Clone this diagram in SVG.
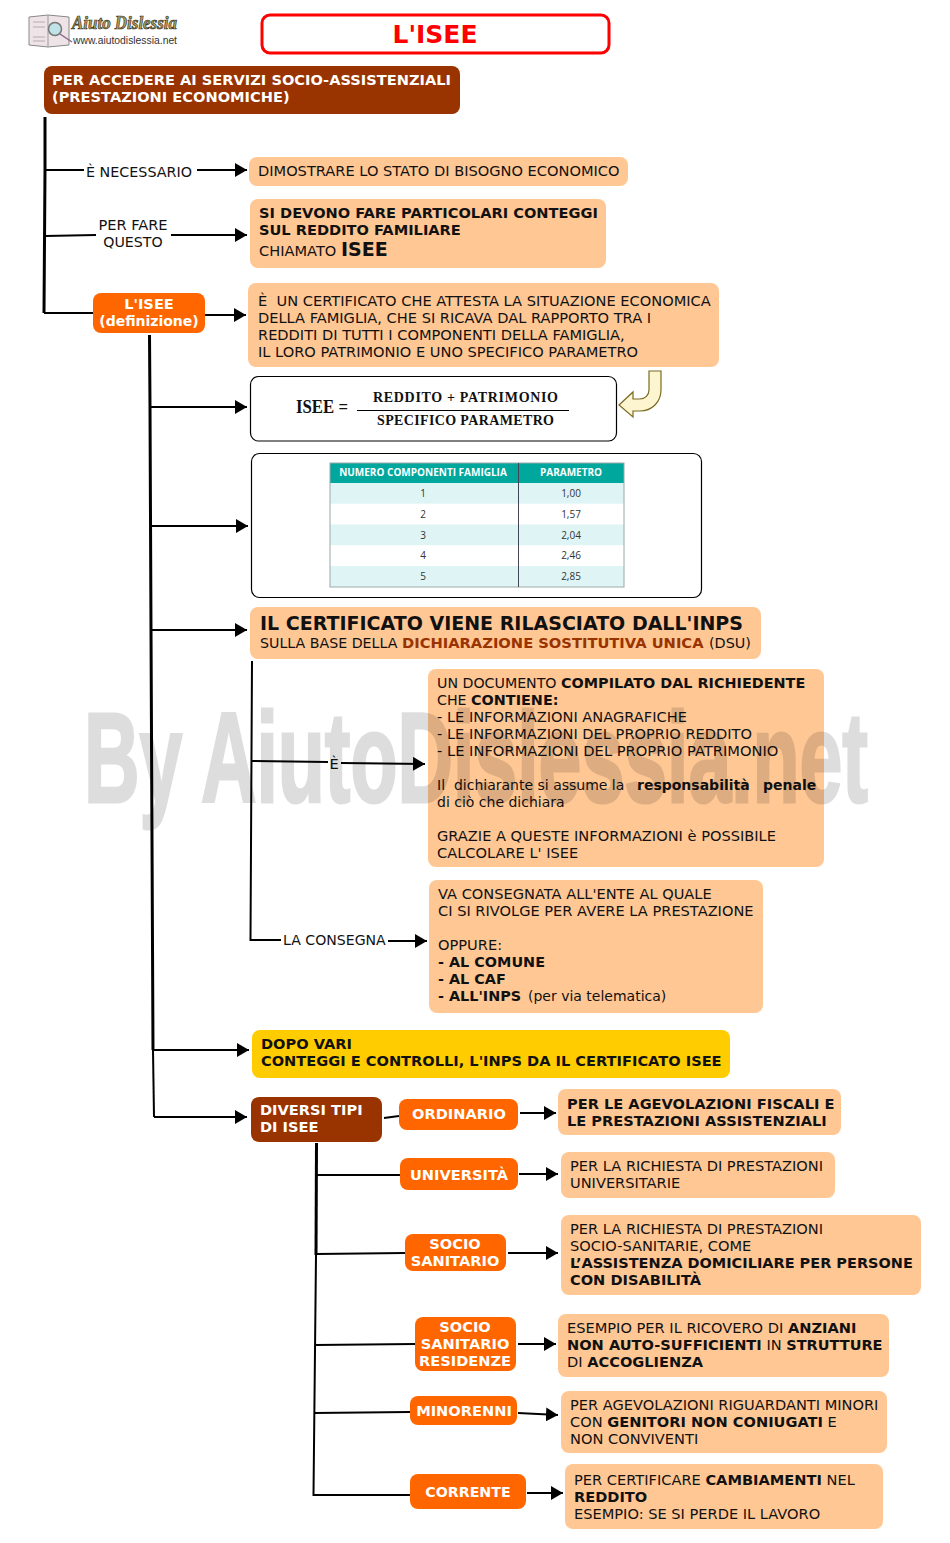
<svg xmlns="http://www.w3.org/2000/svg" width="950" height="1543" viewBox="0 0 950 1543">
<style>
text{font-family:"DejaVu Sans",Verdana,sans-serif;font-size:14.6px;fill:#111}
.b{font-weight:bold}
.w{fill:#fff;font-weight:bold}
.m{text-anchor:middle}
.l{font-size:14px}
.p{fill:#ffc794}
.o{fill:#ff6600}
.r{fill:#993300}
.f{fill:#fff;stroke:#000;stroke-width:1.2}
.c{fill:none;stroke:#000;stroke-width:2}
.t{stroke-width:3}
.a{marker-end:url(#h)}
.s{font-family:"Liberation Serif",serif;font-weight:bold}
.n{font-family:"Open Sans",sans-serif;font-size:10px;fill:#333;text-anchor:middle}
.nh{font-family:"Open Sans",sans-serif;font-size:10px;font-weight:bold;fill:#fff;text-anchor:middle}
</style>
<defs>
<marker id="h" markerUnits="userSpaceOnUse" markerWidth="13" markerHeight="14" refX="12" refY="7" orient="auto"><path d="M0 0L12 7L0 14Z" fill="#000"/></marker>
</defs>

<g id="logo">
<path d="M29 17L48 15L69 17L69 45L48 47L29 45Z" fill="#eee4e8" stroke="#888"/>
<path d="M48 15V47" stroke="#999"/>
<path d="M33 22H45M33 27H45M33 37H45M33 41H45" stroke="#b9a9b0"/>
<circle cx="55" cy="29" r="6.500" fill="#bfe3e6" stroke="#777" stroke-width="1.500"/>
<path d="M60 34L72 42" stroke="#8a6a8a" stroke-width="1.500"/>
<text x="72" y="29" style="font-family:'Liberation Serif',serif;font-size:18px;font-weight:bold;font-style:italic;fill:#b8a060;stroke:#332;stroke-width:.7" textLength="105" lengthAdjust="spacingAndGlyphs">Aiuto Dislessia</text>
<text x="73" y="44" style="font-family:'Liberation Sans',sans-serif;font-size:10px;fill:#333" textLength="104" lengthAdjust="spacingAndGlyphs">www.aiutodislessia.net</text>
</g>

<g id="title"><rect x="262" y="15" width="347" height="38" rx="8" fill="#fff" stroke="#f00" stroke-width="3"/><text x="435" y="43" class="m b" style="fill:#f00;font-size:25px">L'ISEE</text></g>

<g id="connectors">
<path class="c t" d="M45 117L45 170L44 313"/>
<path class="c" d="M44 313H93"/>
<path class="c" d="M45 170H84"/>
<path class="c a" d="M197 170H247"/>
<path class="c" d="M45 236L96 235"/>
<path class="c a" d="M171 235H247"/>
<path class="c a" d="M205 315H246"/>
<path class="c t" d="M149.500 335L150 406L151 630L153 1050"/>
<path class="c" d="M153 1050L154 1117"/>
<path class="c a" d="M154 1117H247"/>
<path class="c a" d="M150 407H247"/>
<path class="c a" d="M150 526H248"/>
<path class="c a" d="M151 630H247"/>
<path class="c a" d="M153 1050H249"/>
<path class="c" d="M252 661L250.500 940H281"/>
<path class="c" d="M252 761L328 762"/>
<path class="c a" d="M341 763L425 764"/>
<path class="c a" d="M388 941H427"/>
<path class="c" d="M384 1118L399 1116"/>
<path class="c a" d="M520 1113H556"/>
<path class="c t" d="M316.500 1143L316 1255"/>
<path class="c" d="M316 1255L313.500 1495H410"/>
<path class="c" d="M316 1175H400"/>
<path class="c a" d="M519 1174H558"/>
<path class="c" d="M316 1254L405 1253"/>
<path class="c a" d="M508 1253H558"/>
<path class="c" d="M315 1345L415 1344"/>
<path class="c a" d="M518 1344H556"/>
<path class="c" d="M314 1413L410 1412"/>
<path class="c a" d="M518 1413L558 1415"/>
<path class="c a" d="M527 1493H563"/>
<text x="86" y="177" style="font-size:14.3px">È NECESSARIO</text>
<text x="133" y="230" class="m">PER FARE</text>
<text x="133" y="247" class="m" style="font-size:14.2px">QUESTO</text>
<text x="334" y="769" class="m">È</text>
<text x="283" y="945" style="font-size:14.1px">LA CONSEGNA</text>
</g>

<g id="n-header"><rect x="44" y="66" width="416" height="48" rx="8" class="r"/><text x="52" y="85" class="w">PER ACCEDERE AI SERVIZI SOCIO-ASSISTENZIALI</text><text x="52" y="102" class="w">(PRESTAZIONI ECONOMICHE)</text></g>

<g id="n-dimostrare"><rect x="249" y="157" width="379" height="29" rx="8" class="p"/><text x="258" y="176">DIMOSTRARE LO STATO DI BISOGNO ECONOMICO</text></g>

<g id="n-conteggi"><rect x="250" y="199" width="356" height="69" rx="8" class="p"/><text x="259" y="218" class="b">SI DEVONO FARE PARTICOLARI CONTEGGI</text><text x="259" y="235" class="b">SUL REDDITO FAMILIARE</text><text x="259" y="256">CHIAMATO <tspan class="b" style="font-size:19px">ISEE</tspan></text></g>

<g id="n-isee-def"><rect x="93" y="293" width="112" height="40" rx="8" class="o"/><text x="149" y="309" class="w m">L'ISEE</text><text x="149" y="326" class="w m l">(definizione)</text></g>

<g id="n-certificato"><rect x="248" y="283" width="471" height="84" rx="8" class="p"/><text x="258" y="306" xml:space="preserve">È  UN CERTIFICATO CHE ATTESTA LA SITUAZIONE ECONOMICA</text><text x="258" y="323">DELLA FAMIGLIA, CHE SI RICAVA DAL RAPPORTO TRA I</text><text x="258" y="340">REDDITI DI TUTTI I COMPONENTI DELLA FAMIGLIA,</text><text x="258" y="357">IL LORO PATRIMONIO E UNO SPECIFICO PARAMETRO</text></g>

<g id="n-formula"><rect x="250.500" y="376.500" width="366" height="64.500" rx="8" class="f"/>
<text x="296" y="413" class="s" style="font-size:18px" textLength="52" lengthAdjust="spacingAndGlyphs">ISEE =</text>
<text x="373" y="402" class="s" style="font-size:14px" textLength="185">REDDITO + PATRIMONIO</text>
<path d="M357 410.500H569" stroke="#000" stroke-width="1"/>
<text x="377" y="425" class="s" style="font-size:14px" textLength="177">SPECIFICO PARAMETRO</text></g>

<g id="n-freccia"><path d="M619 405L633 392V399H640C645 399 649 395 649 390V371H661V390C661 402 652 411 640 411H633V417Z" fill="#fdf5d0" stroke="#7a6a20" stroke-width="1.200"/></g>

<g id="n-tabella"><rect x="251.500" y="453.500" width="450" height="144" rx="8" class="f"/>
<rect x="330" y="463" width="294" height="20" fill="#00a79d"/>
<rect x="330" y="483" width="294" height="20.700" fill="#dff4f4"/>
<rect x="330" y="524.500" width="294" height="20.700" fill="#dff4f4"/>
<rect x="330" y="566" width="294" height="20.700" fill="#dff4f4"/>
<rect x="330" y="463" width="294" height="124" fill="none" stroke="#9aa8a8"/>
<path d="M518.500 463V587" stroke="#445" stroke-width="1"/>
<text x="423" y="476" class="nh">NUMERO COMPONENTI FAMIGLIA</text><text x="571" y="476" class="nh">PARAMETRO</text>
<text x="423" y="497" class="n">1</text><text x="571" y="497" class="n">1,00</text>
<text x="423" y="518" class="n">2</text><text x="571" y="518" class="n">1,57</text>
<text x="423" y="539" class="n">3</text><text x="571" y="539" class="n">2,04</text>
<text x="423" y="559" class="n">4</text><text x="571" y="559" class="n">2,46</text>
<text x="423" y="580" class="n">5</text><text x="571" y="580" class="n">2,85</text></g>

<g id="n-inps"><rect x="250" y="607" width="511" height="52" rx="8" class="p"/><text x="260" y="630" class="b" style="font-size:19px">IL CERTIFICATO VIENE RILASCIATO DALL'INPS</text><text x="260" y="648" style="font-size:14.2px">SULLA BASE DELLA <tspan x="402" class="b" style="fill:#993300;font-size:14.7px">DICHIARAZIONE SOSTITUTIVA UNICA</tspan><tspan x="709" style="font-size:14.4px">(DSU)</tspan></text></g>

<g id="n-documento"><rect x="428" y="669" width="396" height="198" rx="8" class="p"/>
<text x="437" y="688" style="font-size:14.2px">UN DOCUMENTO <tspan x="561" class="b" style="font-size:14.4px">COMPILATO DAL RICHIEDENTE</tspan></text>
<text x="437" y="705" style="font-size:14.2px">CHE <tspan x="471" class="b" style="font-size:14.4px">CONTIENE:</tspan></text>
<text x="437" y="722">- LE INFORMAZIONI ANAGRAFICHE</text>
<text x="437" y="739">- LE INFORMAZIONI DEL PROPRIO REDDITO</text>
<text x="437" y="756" style="font-size:14.7px">- LE INFORMAZIONI DEL PROPRIO PATRIMONIO</text>
<text x="437" y="790" class="l" xml:space="preserve">Il  dichiarante si assume la<tspan x="637" class="b">responsabilità</tspan><tspan x="763" class="b">penale</tspan></text>
<text x="437" y="807" class="l">di ciò che dichiara</text>
<text x="437" y="841">GRAZIE A QUESTE INFORMAZIONI è POSSIBILE</text>
<text x="437" y="858">CALCOLARE L' ISEE</text></g>

<g id="n-consegna"><rect x="429" y="880" width="334" height="133" rx="8" class="p"/>
<text x="438" y="899">VA CONSEGNATA ALL'ENTE AL QUALE</text>
<text x="438" y="916">CI SI RIVOLGE PER AVERE LA PRESTAZIONE</text>
<text x="438" y="950">OPPURE:</text>
<text x="438" y="967" class="b" style="font-size:14.4px">- AL COMUNE</text>
<text x="438" y="984" class="b" style="font-size:14.4px">- AL CAF</text>
<text x="438" y="1001"><tspan class="b" style="font-size:14.4px">- ALL'INPS</tspan><tspan x="528" class="l">(per via telematica)</tspan></text></g>

<g id="n-dopo"><rect x="252" y="1030" width="478" height="48" rx="8" fill="#ffcc00"/><text x="261" y="1049" class="b">DOPO VARI</text><text x="261" y="1066" class="b">CONTEGGI E CONTROLLI, L'INPS DA IL CERTIFICATO ISEE</text></g>

<g id="n-diversi"><rect x="251" y="1097" width="131" height="45" rx="8" class="r"/><text x="260" y="1115" class="w">DIVERSI TIPI</text><text x="260" y="1132" class="w">DI ISEE</text></g>

<g id="n-ordinario"><rect x="399" y="1099" width="119" height="31" rx="8" class="o"/><text x="459" y="1119" class="w m">ORDINARIO</text></g>
<g id="n-ordinario-t"><rect x="558" y="1089" width="283" height="46" rx="8" class="p"/><text x="567" y="1109" class="b">PER LE AGEVOLAZIONI FISCALI E</text><text x="567" y="1126" class="b">LE PRESTAZIONI ASSISTENZIALI</text></g>

<g id="n-universita"><rect x="400" y="1158" width="118" height="32" rx="8" class="o"/><text x="459" y="1180" class="w m">UNIVERSITÀ</text></g>
<g id="n-universita-t"><rect x="561" y="1152" width="274" height="46" rx="8" class="p"/><text x="570" y="1171">PER LA RICHIESTA DI PRESTAZIONI</text><text x="570" y="1188">UNIVERSITARIE</text></g>

<g id="n-socio"><rect x="405" y="1234" width="101" height="37" rx="8" class="o"/><text x="455" y="1249" class="w m">SOCIO</text><text x="455" y="1266" class="w m">SANITARIO</text></g>
<g id="n-socio-t"><rect x="561" y="1215" width="360" height="80" rx="8" class="p"/><text x="570" y="1234">PER LA RICHIESTA DI PRESTAZIONI</text><text x="570" y="1251">SOCIO-SANITARIE, COME</text><text x="570" y="1268" class="b" style="font-size:14.5px">L’ASSISTENZA DOMICILIARE PER PERSONE</text><text x="570" y="1285" class="b">CON DISABILITÀ</text></g>

<g id="n-residenze"><rect x="415" y="1317" width="101" height="54" rx="8" class="o"/><text x="465" y="1332" class="w m">SOCIO</text><text x="465" y="1349" class="w m">SANITARIO</text><text x="465" y="1366" class="w m">RESIDENZE</text></g>
<g id="n-residenze-t"><rect x="558" y="1314" width="331" height="63" rx="8" class="p"/><text x="567" y="1333">ESEMPIO PER IL RICOVERO DI <tspan class="b">ANZIANI</tspan></text><text x="567" y="1350"><tspan class="b">NON AUTO-SUFFICIENTI</tspan> IN <tspan class="b" style="font-size:14.5px">STRUTTURE</tspan></text><text x="567" y="1367">DI <tspan class="b">ACCOGLIENZA</tspan></text></g>

<g id="n-minorenni"><rect x="410" y="1396" width="107" height="29" rx="8" class="o"/><text x="464" y="1416" class="w m">MINORENNI</text></g>
<g id="n-minorenni-t"><rect x="561" y="1391" width="326" height="62" rx="8" class="p"/><text x="570" y="1410">PER AGEVOLAZIONI RIGUARDANTI MINORI</text><text x="570" y="1427">CON <tspan class="b">GENITORI NON CONIUGATI</tspan> E</text><text x="570" y="1444">NON CONVIVENTI</text></g>

<g id="n-corrente"><rect x="410" y="1474" width="116" height="35" rx="8" class="o"/><text x="468" y="1497" class="w m" style="font-size:14.2px">CORRENTE</text></g>
<g id="n-corrente-t"><rect x="565" y="1464" width="318" height="65" rx="8" class="p"/><text x="574" y="1485">PER CERTIFICARE <tspan class="b">CAMBIAMENTI</tspan> NEL</text><text x="574" y="1502" class="b">REDDITO</text><text x="574" y="1519">ESEMPIO: SE SI PERDE IL LAVORO</text></g>

<g id="watermark" opacity=".13"><text x="84" y="802" textLength="784" lengthAdjust="spacingAndGlyphs" style="font-family:'Liberation Sans',sans-serif;font-weight:bold;font-size:128px;fill:#000;stroke:#000;stroke-width:3">By AiutoDislessia.net</text></g>
</svg>
